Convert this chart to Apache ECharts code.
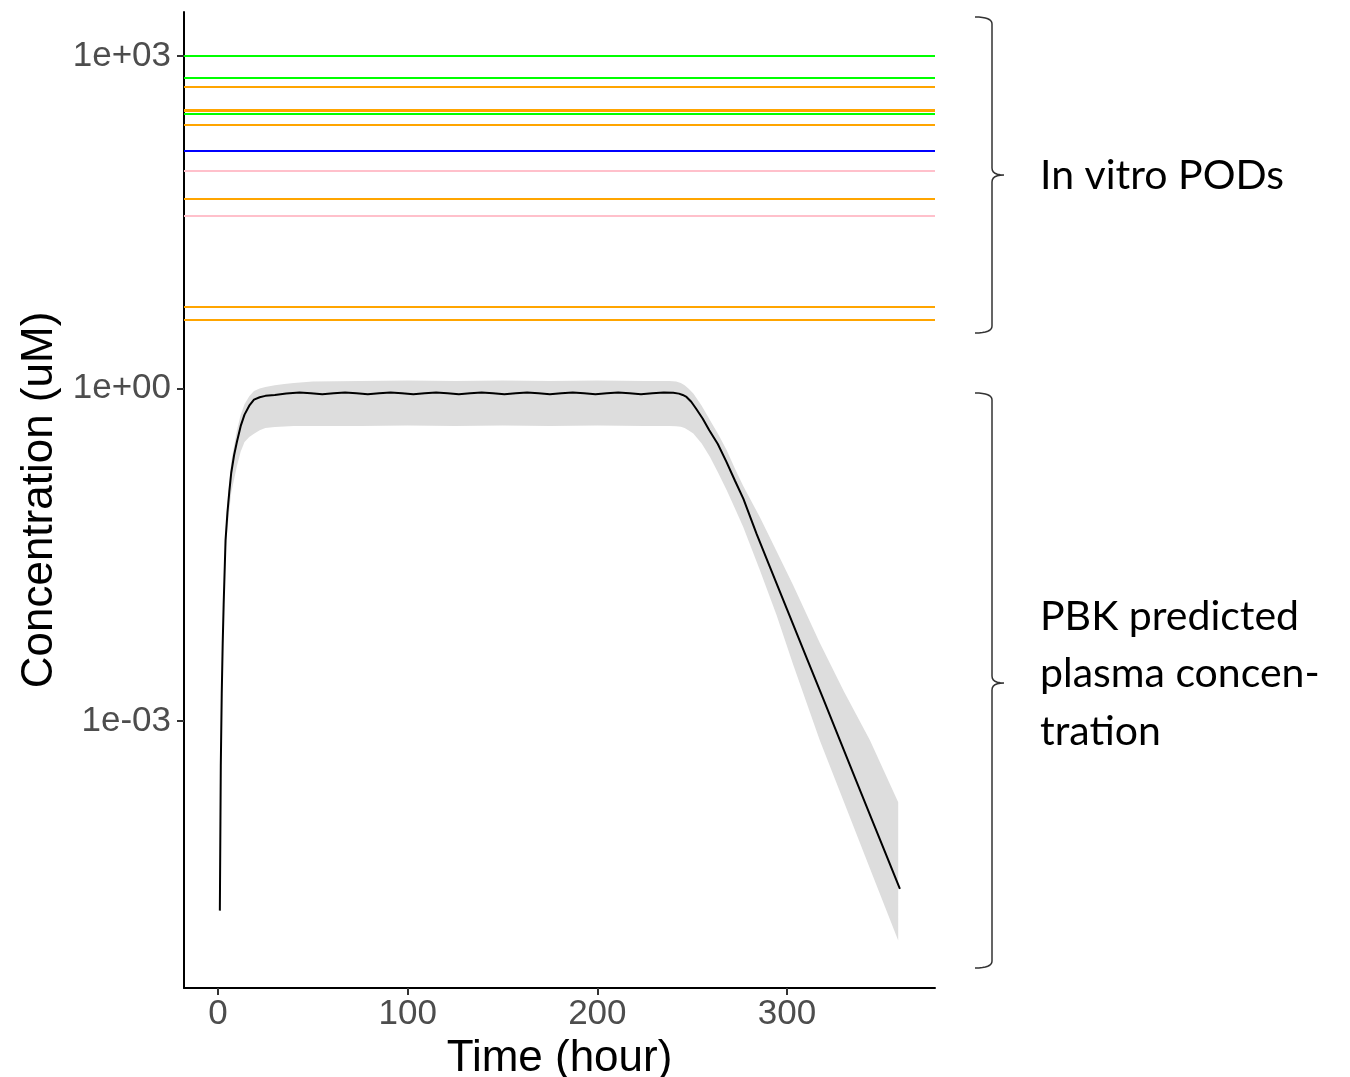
<!DOCTYPE html>
<html>
<head>
<meta charset="utf-8">
<script src="https://cdn.jsdelivr.net/npm/echarts@6/dist/echarts.min.js"></script>
<style>
html,body{margin:0;padding:0;background:#fff;}
#chart{width:1350px;height:1077px;}
</style>
</head>
<body>
<div id="chart"></div>
<script>
// ---- In vitro PODs (horizontal reference lines, uM) ----
const podValues = [1000, 630, 528, 330, 321, 301, 238, 140, 91.6, 51.9, 35.9, 5.44, 4.19];
const podColors = ['#00ff00', '#00ff00', '#ffa500', '#ffa500', '#ffa500', '#00ff00', '#ffa500', '#0000ff', '#ffc0cb', '#ffa500', '#ffc0cb', '#ffa500', '#ffa500'];

// ---- PBK predicted plasma concentration (mean curve) ----
const timeLine = [1, 1.5, 2, 2.5, 3, 4, 5, 6, 7, 8.5, 10, 12, 14, 16.5, 19, 22, 25, 30, 36, 43, 49, 55, 61, 67, 73, 79, 85, 91, 97, 103, 109, 115, 121, 127, 133, 139, 145, 151, 157, 163, 169, 175, 181, 187, 193, 199, 205, 211, 217, 223, 229, 235, 240, 243, 245, 247, 249.5, 252, 255.5, 259, 263.5, 268, 272.5, 277, 284, 291, 300, 310, 319, 328, 336, 345, 352, 359.5];
const concMean = [1.95e-5, 4.0e-4, 1.78e-3, 5.0e-3, 0.0112, 0.0427, 0.0759, 0.118, 0.174, 0.25, 0.331, 0.46, 0.582, 0.70, 0.794, 0.835, 0.859, 0.875, 0.90, 0.92, 0.905, 0.89, 0.905, 0.92, 0.905, 0.89, 0.905, 0.92, 0.905, 0.89, 0.905, 0.92, 0.905, 0.89, 0.905, 0.92, 0.905, 0.89, 0.905, 0.92, 0.905, 0.89, 0.905, 0.92, 0.905, 0.89, 0.905, 0.92, 0.905, 0.89, 0.905, 0.92, 0.915, 0.90, 0.875, 0.84, 0.76, 0.66, 0.537, 0.42, 0.316, 0.219, 0.148, 0.101, 0.0486, 0.0245, 0.0102, 3.84e-3, 1.60e-3, 6.62e-4, 3.03e-4, 1.26e-4, 6.37e-5, 3.06e-5];

// ---- Uncertainty band ----
const timeBand  = [1, 1.5, 2, 3, 4, 5, 7, 10, 12, 14, 16.5, 19, 22, 25, 30, 35, 40, 50, 75, 100, 125, 150, 175, 200, 225, 238, 241.5, 244, 246, 248, 250.6, 255, 259.4, 263.8, 268.2, 272.5, 276.9, 285.7, 294.5, 303.3, 317.3, 330, 343.7, 358.6];
const bandLower = [1.7e-5, 3.4e-4, 1.5e-3, 9e-3, 0.033, 0.055, 0.115, 0.2, 0.27, 0.33, 0.365, 0.39, 0.42, 0.44, 0.45, 0.455, 0.46, 0.46, 0.46, 0.465, 0.46, 0.465, 0.46, 0.465, 0.46, 0.46, 0.458, 0.452, 0.44, 0.42, 0.393, 0.32, 0.241, 0.172, 0.121, 0.083, 0.0564, 0.0229, 9.0e-3, 3.2e-3, 6.68e-4, 1.86e-4, 4.69e-5, 1.05e-5];
const bandUpper = [2.2e-5, 4.7e-4, 2.1e-3, 0.0135, 0.052, 0.095, 0.22, 0.42, 0.58, 0.72, 0.85, 0.95, 1.0, 1.03, 1.07, 1.10, 1.12, 1.16, 1.17, 1.18, 1.17, 1.18, 1.17, 1.18, 1.17, 1.17, 1.16, 1.12, 1.07, 1.0, 0.90, 0.70, 0.518, 0.385, 0.277, 0.19, 0.132, 0.0689, 0.034, 0.01675, 5.07e-3, 1.85e-3, 6.7e-4, 1.85e-4];

// ---- Axis ticks ----
const xTicks = [0, 100, 200, 300];
const yTicks = [0.001, 1, 1000];
const yTickLabels = ['1e-03', '1e+00', '1e+03'];

const chart = echarts.init(document.getElementById('chart'), null, {renderer: 'canvas'});

const bandData = timeBand.map((t, i) => [t, bandLower[i], bandUpper[i]]);
const meanData = timeLine.map((t, i) => [t, concMean[i]]);

const tickFont = {fontFamily: 'Liberation Sans, Arial, sans-serif', fontSize: 35, color: '#4d4d4d'};
const titleFont = {fontFamily: 'Liberation Sans, Arial, sans-serif', fontSize: 44, color: '#000'};

// curly brace outline as polyline points
function quad(p0, p1, p2, n) {
  const out = [];
  for (let k = 0; k <= n; k++) {
    const s = k / n;
    out.push([(1-s)*(1-s)*p0[0] + 2*(1-s)*s*p1[0] + s*s*p2[0], (1-s)*(1-s)*p0[1] + 2*(1-s)*s*p1[1] + s*s*p2[1]]);
  }
  return out;
}
function brace(x0, yTop, yBot, yTip) {
  const xv = x0 + 17, xt = x0 + 29;
  return [].concat(
    quad([x0, yTop], [xv, yTop], [xv, yTop + 7], 8),
    quad([xv, yTip - 7], [xv, yTip], [xt, yTip], 6),
    quad([xt, yTip], [xv, yTip], [xv, yTip + 7], 6),
    quad([xv, yBot - 7], [xv, yBot], [x0, yBot], 8)
  );
}

// ribbon: one polygon through all band points (upper edge then lower edge back)
function renderBand(params, api) {
  if (params.dataIndex !== 0) return null;
  const up = [], lo = [];
  for (let i = 0; i < timeBand.length; i++) {
    up.push(api.coord([timeBand[i], bandUpper[i]]));
    lo.push(api.coord([timeBand[i], bandLower[i]]));
  }
  return {
    type: 'polygon',
    shape: {points: up.concat(lo.reverse())},
    style: {fill: '#dddddd', stroke: 'none'},
    silent: true
  };
}

const option = {
  animation: false,
  backgroundColor: '#fff',
  grid: {left: 184, right: 415, top: 12, bottom: 89, containLabel: false, outerBoundsMode: 'none'},
  xAxis: {
    type: 'value',
    min: -17.9, max: 378,
    name: 'Time (hour)',
    nameLocation: 'middle',
    nameGap: 36,
    nameTextStyle: titleFont,
    axisLine: {show: true, onZero: false, lineStyle: {color: '#000', width: 2}},
    axisTick: {show: true, length: 7, customValues: xTicks, lineStyle: {color: '#333', width: 2}},
    axisLabel: Object.assign({margin: 9, customValues: xTicks}, tickFont),
    splitLine: {show: false}
  },
  yAxis: {
    type: 'log',
    logBase: 10,
    min: Math.pow(10, -5.408), max: Math.pow(10, 3.397),
    name: 'Concentration (uM)',
    nameLocation: 'middle',
    nameGap: 122,
    nameRotate: 90,
    nameTextStyle: titleFont,
    axisLine: {show: true, onZero: false, lineStyle: {color: '#000', width: 2}},
    axisTick: {show: true, length: 7, customValues: yTicks, lineStyle: {color: '#333', width: 2}},
    axisLabel: Object.assign({margin: 13, padding: [15, 0, 0, 0], customValues: yTicks,
      formatter: v => {
        let best = 0, bd = Infinity;
        yTicks.forEach((t, i) => { const d = Math.abs(Math.log10(t) - Math.log10(v)); if (d < bd) { bd = d; best = i; } });
        return bd < 1e-4 ? yTickLabels[best] : '';
      }}, tickFont),
    splitLine: {show: false}
  },
  series: [
    {
      name: 'PODs', type: 'line', data: [], silent: true, z: 1,
      markLine: {
        silent: true, symbol: 'none', animation: false,
        label: {show: false},
        data: podValues.map((v, i) => ({yAxis: v, lineStyle: {color: podColors[i], width: 1.8, type: 'solid'}}))
      }
    },
    {
      name: 'band', type: 'custom', data: bandData,
      encode: {x: 0, y: [1, 2]},
      renderItem: renderBand, silent: true, z: 2, clip: true
    },
    {
      name: 'mean', type: 'line', data: meanData,
      symbol: 'none', smooth: false,
      lineStyle: {color: '#000', width: 2}, silent: true, z: 3
    }
  ],
  graphic: [
    {type: 'polyline', shape: {points: brace(975, 17, 333, 175)}, style: {stroke: '#333', lineWidth: 1.5, fill: null}},
    {type: 'polyline', shape: {points: brace(975, 393, 968, 683)}, style: {stroke: '#333', lineWidth: 1.5, fill: null}},
    {type: 'text', left: 1040, top: 155, style: {text: 'In vitro PODs', fontFamily: 'Lato, Open Sans, sans-serif', fontSize: 41, fill: '#000'}},
    {type: 'text', left: 1040, top: 588, style: {text: 'PBK predicted\nplasma concen-\ntration', fontFamily: 'Lato, Open Sans, sans-serif', fontSize: 41, lineHeight: 57.5, fill: '#000'}}
  ]
};
chart.setOption(option);
</script>
</body>
</html>
